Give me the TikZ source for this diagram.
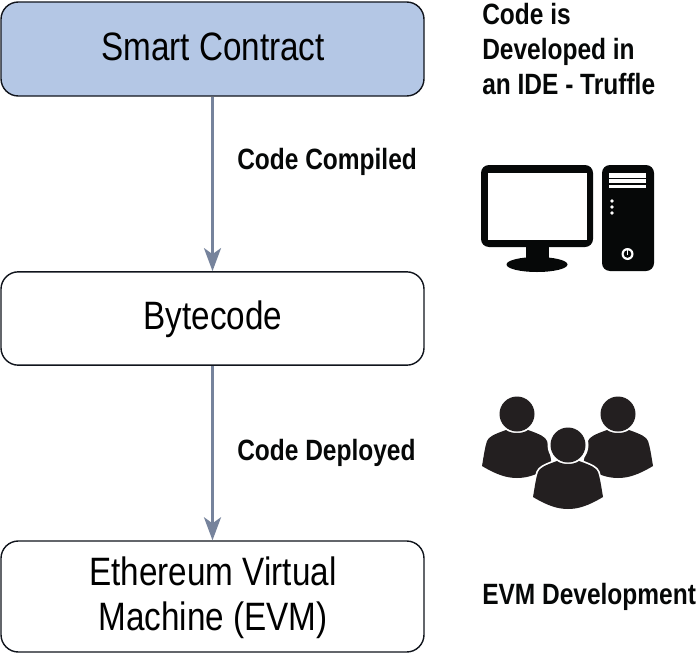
\documentclass[tikz,border=0pt]{standalone}
\usepackage{fontspec}
\setmainfont{Liberation Sans}
\newfontfamily\boxfont[FakeStretch=0.84]{Liberation Sans}
\newfontfamily\labfont[FakeStretch=0.835]{Liberation Sans Bold}
\usetikzlibrary{arrows.meta}
\definecolor{arrowgray}{HTML}{76839C}
\definecolor{boxblue}{HTML}{B4C7E5}
\definecolor{boxline}{HTML}{10141C}
\definecolor{iconblack}{HTML}{060808}
\definecolor{peopleblack}{HTML}{231F20}
\tikzset{
  x=0.75pt,y=-0.75pt,
  flowbox/.style={draw=boxline,line width=1.4pt*0.75,rounded corners=13pt,minimum width=317.25pt,align=center,inner sep=0pt},
  flowtext/.style={font=\boxfont\fontsize{29.7}{33.75}\selectfont,inner sep=0pt,align=center},
  flowarrow/.style={draw=arrowgray,line width=2.6pt*0.75,-{Stealth[length=23pt*0.75,width=17pt*0.75,inset=6pt*0.75]}},
  caption/.style={font=\labfont\fontsize{22}{26.25}\selectfont,align=left,anchor=west,inner sep=0pt,text=iconblack},
  ico/.style={fill=iconblack,draw=none},
  holes/.style={fill=white,draw=none},
  ppl/.style={fill=peopleblack,draw=none},
  pic body/.pic={
    \path[pic actions] (-35,52) .. controls (-33,40) and (-32,33) .. (-30,27) .. controls (-28,23) and (-25,21) .. (-11,16)
      .. controls (-6,20) and (6,20) .. (11,16) .. controls (25,21) and (28,23) .. (30,27)
      .. controls (32,33) and (33,40) .. (35,52) .. controls (20,61) and (10,64) .. (0,64)
      .. controls (-10,64) and (-20,61) .. (-35,52) -- cycle;
  }
}
\begin{document}
\begin{tikzpicture}
\useasboundingbox (0,0) rectangle (699,653);
\fill[white] (0,0) rectangle (699,653);
% boxes
\node[flowbox,fill=boxblue,minimum height=70.5pt] (sc) at (212.5,49) {};
\node[flowbox,minimum height=70pt] (bc) at (212.5,318.5) {};
\node[flowbox,minimum height=83.25pt] (evm) at (212.5,596.5) {};
\node[flowtext] (sct) at (213,47) {Smart Contract};
\node[flowtext] (bct) at (213,319) {Bytecode};
\node[flowtext] (evmt) at (213,598) {Ethereum Virtual\\Machine (EVM)};
% arrows
\draw[flowarrow] (sc.south) -- (bc.north);
\draw[flowarrow] (bc.south) -- (evm.north);
% captions
\node[caption] (c1) at (237,162) {Code Compiled};
\node[caption] (c2) at (237,453) {Code Deployed};
\node[caption] (c3) at (482,49) {Code is\\Developed in\\an IDE - Truffle};
\node[caption] (c4) at (482,597) {EVM Development};
% computer
\fill[ico,rounded corners=6pt] (481,165) rectangle (593,247);
\fill[holes] (487.5,173) rectangle (587,240);
\fill[ico] (526,246) rectangle (549,260);
\fill[ico] (537,264.5) ellipse [x radius=30.5,y radius=7.5];
\fill[ico,rounded corners=6pt] (602,165) rectangle (654,271);
\fill[holes] (609,173) rectangle (646,177.5);
\fill[holes] (609,179) rectangle (646,183);
\fill[holes] (609,184.5) rectangle (646,188);
\fill[holes] (612,201) circle (1.9);
\fill[holes] (612,207) circle (1.9);
\fill[holes] (612,213) circle (1.9);
\fill[holes] (627.5,254) circle (6);
\fill[ico] (627.5,254) circle (3.8);
\fill[holes] (626.7,249.5) rectangle (628.3,254.5);
% people
\fill[ppl] (517,414) circle (17.5);
\fill[ppl] (618,414) circle (17.5);
\pic[ppl] at (517,414) {pic body};
\pic[ppl] at (618,414) {pic body};
\pic[draw=white,line width=2.6pt,fill=white] at (568,445) {pic body};
\fill[white] (568,445) circle (20.5);
\fill[ppl] (568,445) circle (17.5);
\pic[ppl] at (568,445) {pic body};
\end{tikzpicture}
\end{document}
